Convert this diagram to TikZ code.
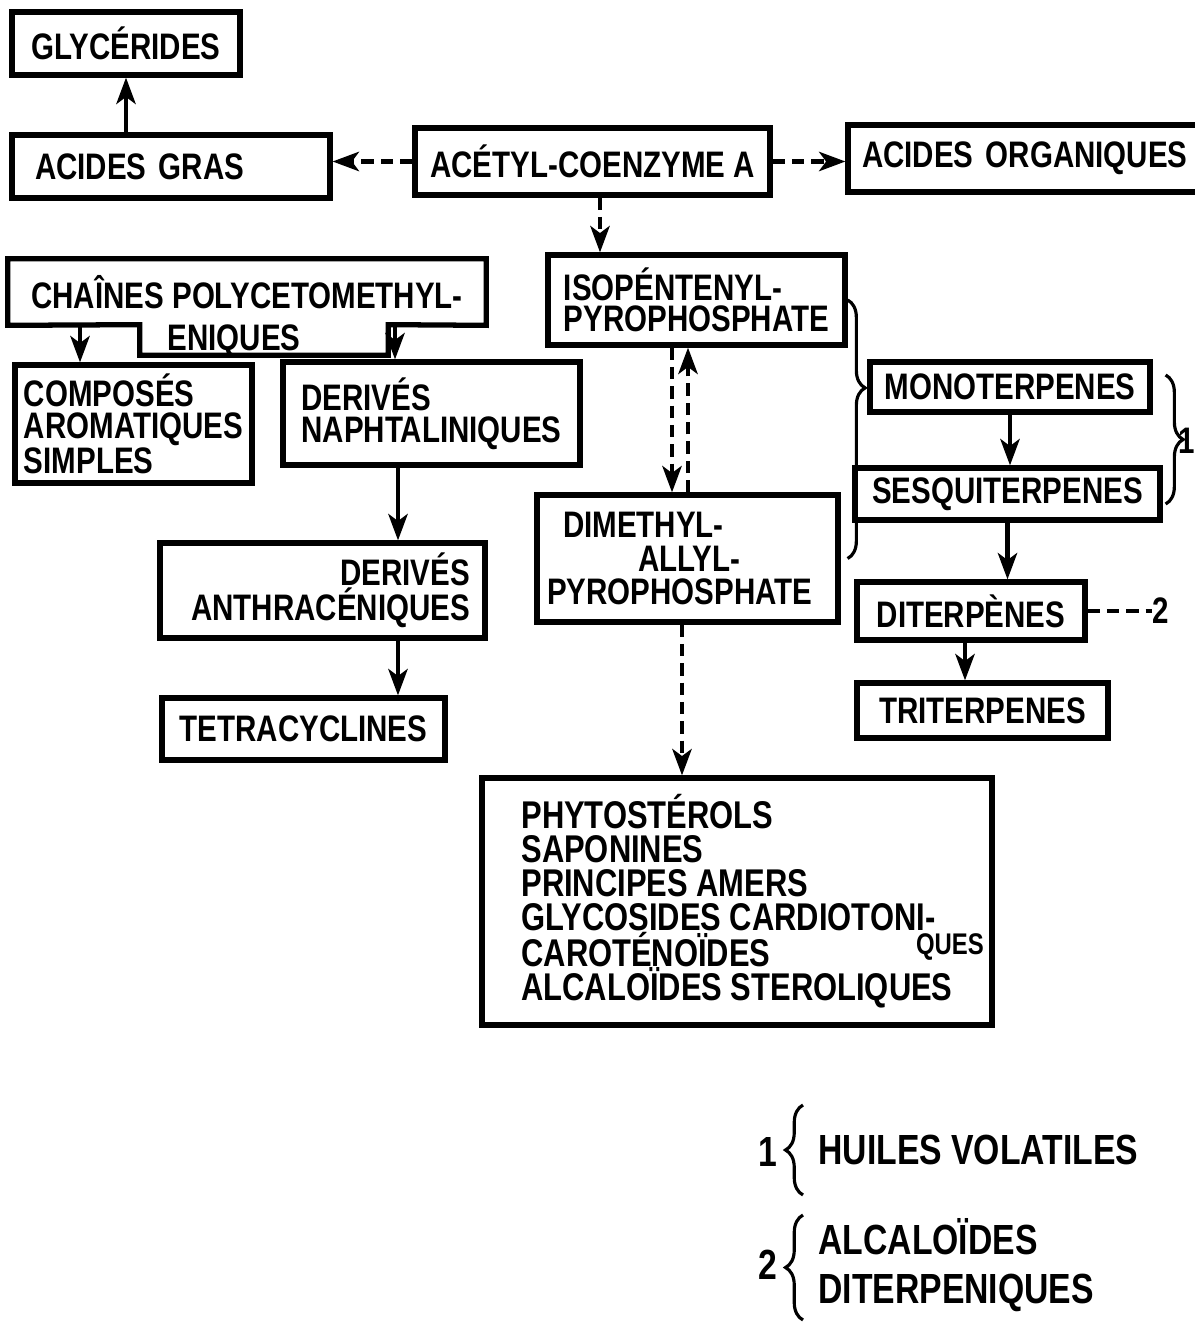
\documentclass[tikz,border=0pt]{standalone}
\usepackage{fontspec}
\setmainfont{Liberation Sans}[FakeStretch=0.8]
\usepackage{tikz}
\usetikzlibrary{arrows.meta, positioning, decorations.pathreplacing}

\begin{document}
\begin{tikzpicture}[
    x=0.02cm, y=-0.02cm,
    every node/.style={font=\bfseries\fontsize{21}{18}\selectfont},
    box/.style={draw, line width=3pt, inner sep=0pt, align=left},
    legend/.style={font=\bfseries\fontsize{24}{28.3}\selectfont, inner sep=0pt, align=left},
    line/.style={line width=2.4pt},
    arr/.style={line, -{Stealth[length=15pt, width=11pt, inset=4pt]}},
    dasharr/.style={arr, dash pattern=on 7pt off 4pt},
    dashline/.style={line, dash pattern=on 7pt off 4pt},
    curly/.style={line width=1.8pt, decorate, decoration={brace, amplitude=0.35cm, aspect=#1}},
    curly/.default=0.5
]
    \useasboundingbox (0,0) rectangle (1194,1325);

    % top row
    \node[box, minimum width=4.56cm, minimum height=1.26cm] (glyc) at (126,43.5) {GLYCÉRIDES};
    \node[box, inner xsep=0.46cm, text width=5.44cm, minimum height=1.26cm] (gras) at (171,166.5) {ACIDES GRAS};
    \node[box, minimum width=7.1cm, minimum height=1.34cm] (acetyl) at (592.5,161.5) {ACÉTYL-COENZYME A};
    \node[box, inner xsep=0.28cm, text width=7cm, minimum height=1.34cm] (acorg) at (1037,158.5) {ACIDES ORGANIQUES};

    % polyketide branch
    \node[minimum width=9.56cm, minimum height=1.32cm, inner sep=0pt] (chtop) at (247,292) {CHAÎNES POLYCETOMETHYL-};
    \node[minimum width=4.96cm, minimum height=0.6cm, inner sep=0pt, text height=14pt, text depth=2pt] (chtab) at (264,340) {\hspace*{-1.2cm}ENIQUES};
    \draw[line width=3pt] (chtop.north west) -- (chtop.north east) -- (chtop.south east)
        -- (chtab.north east) -- (chtab.south east) -- (chtab.south west)
        -- (chtab.north west) -- (chtop.south west) -- cycle;
    \node[box, minimum width=4.74cm, minimum height=2.36cm] (composes) at (133.5,424) {COMPOSÉS\\AROMATIQUES\\SIMPLES};
    \node[box, minimum width=5.94cm, minimum height=2.06cm] (naph) at (431.5,413.5) {DERIVÉS\\NAPHTALINIQUES};
    \node[box, inner xsep=0.3cm, text width=5.9cm, minimum height=1.9cm, align=right] (anth) at (322.5,590.5) {DERIVÉS\hspace*{0.44cm}\\ANTHRACÉNIQUES};
    \node[box, minimum width=5.66cm, minimum height=1.24cm] (tetra) at (303.5,729) {TETRACYCLINES};

    % terpenoid branch
    \node[box, minimum width=5.94cm, minimum height=1.8cm] (iso) at (696.5,300) {ISOPÉNTENYL-\\PYROPHOSPHATE};
    \node[box, inner xsep=0.2cm, text width=5.62cm, minimum height=2.54cm, font=\bfseries\fontsize{21}{19.3}\selectfont] (dima) at (687.5,558.5)
        {\hspace*{0.32cm}DIMETHYL-\\\hspace*{1.82cm}ALLYL-\\PYROPHOSPHATE};
    \node[box, minimum width=10.2cm, minimum height=4.94cm, font=\bfseries\fontsize{22}{19.3}\selectfont] (phyto) at (737,901.5)
        {PHYTOSTÉROLS\\SAPONINES\\PRINCIPES AMERS\\GLYCOSIDES CARDIOTONI-\\CAROTÉNOÏDES\\ALCALOÏDES STEROLIQUES};
    \node[font=\bfseries\fontsize{17}{17}\selectfont, inner sep=0pt] (ques) at (950,947) {QUES};
    \node[box, minimum width=5.6cm, minimum height=1cm] (mono) at (1010,387) {MONOTERPENES};
    \node[box, minimum width=6.1cm, minimum height=1.04cm] (sesqui) at (1007.5,494) {SESQUITERPENES};
    \node[box, minimum width=4.56cm, minimum height=1.16cm] (diter) at (971,611) {DITERPÈNES};
    \node[box, minimum width=5.02cm, minimum height=1.1cm] (triter) at (982.5,710.5) {TRITERPENES};
    \node[inner sep=0pt] (two) at (1161,611) {2};
    \node[inner sep=0pt, anchor=west] (one) at (1178,441) {1};

    % connectors
    \draw[arr] (glyc.south |- gras.north) -- (glyc.south);
    \draw[dasharr] (acetyl.west) -- (acetyl.west -| gras.east);
    \draw[dasharr] (acetyl.east) -- (acetyl.east -| acorg.west);
    \draw[dasharr] ([xshift=0.15cm]acetyl.south) -- ([xshift=0.15cm]acetyl.south |- iso.north);
    \draw[arr] ([xshift=-1.07cm]composes.north |- chtop.south) -- ([xshift=-1.07cm]composes.north);
    \draw[arr] ([xshift=-0.73cm]naph.north |- chtop.south) -- ([xshift=-0.73cm]naph.north);
    \draw[arr] ([xshift=-0.67cm]naph.south) -- ([xshift=-0.67cm]naph.south |- anth.north);
    \draw[arr] ([xshift=1.51cm]anth.south) -- ([xshift=1.51cm]anth.south |- tetra.north);
    \draw[dasharr] ([xshift=-0.49cm]iso.south) -- ([xshift=-0.49cm]iso.south |- dima.north);
    \draw[dasharr] ([xshift=-0.17cm]iso.south |- dima.north) -- ([xshift=-0.17cm]iso.south);
    \draw[dasharr] ([xshift=-0.11cm]dima.south) -- ([xshift=-0.11cm]dima.south |- phyto.north);
    \draw[arr] (mono.south) -- (mono.south |- sesqui.north);
    \draw[arr] (sesqui.south) -- (sesqui.south |- diter.north);
    \draw[arr] ([xshift=-0.12cm]diter.south) -- ([xshift=-0.12cm]diter.south |- triter.north);
    \draw[dashline] (diter.east) -- (two.west);

    % braces
    \draw[curly=0.34] (iso.east) -- (iso.east |- dima.east);
    \draw[curly] ([xshift=0.26cm, yshift=0.24cm]mono.east) -- ([xshift=0.06cm, yshift=-0.2cm]sesqui.east);

    % legend
    \node[legend, anchor=west] (huiles) at (818,1150) {HUILES VOLATILES};
    \node[legend, anchor=east] (n1) at (778,1152) {1};
    \draw[curly] ([xshift=-0.3cm, yshift=-0.9cm]huiles.west) -- ([xshift=-0.3cm, yshift=0.9cm]huiles.west);
    \node[legend, anchor=west] (alcal) at (818,1265) {ALCALOÏDES\\DITERPENIQUES};
    \node[legend, anchor=east] (n2) at (778,1265) {2};
    \draw[curly] ([xshift=-0.3cm, yshift=-1.1cm]alcal.west) -- ([xshift=-0.3cm, yshift=1cm]alcal.west);
\end{tikzpicture}
\end{document}
